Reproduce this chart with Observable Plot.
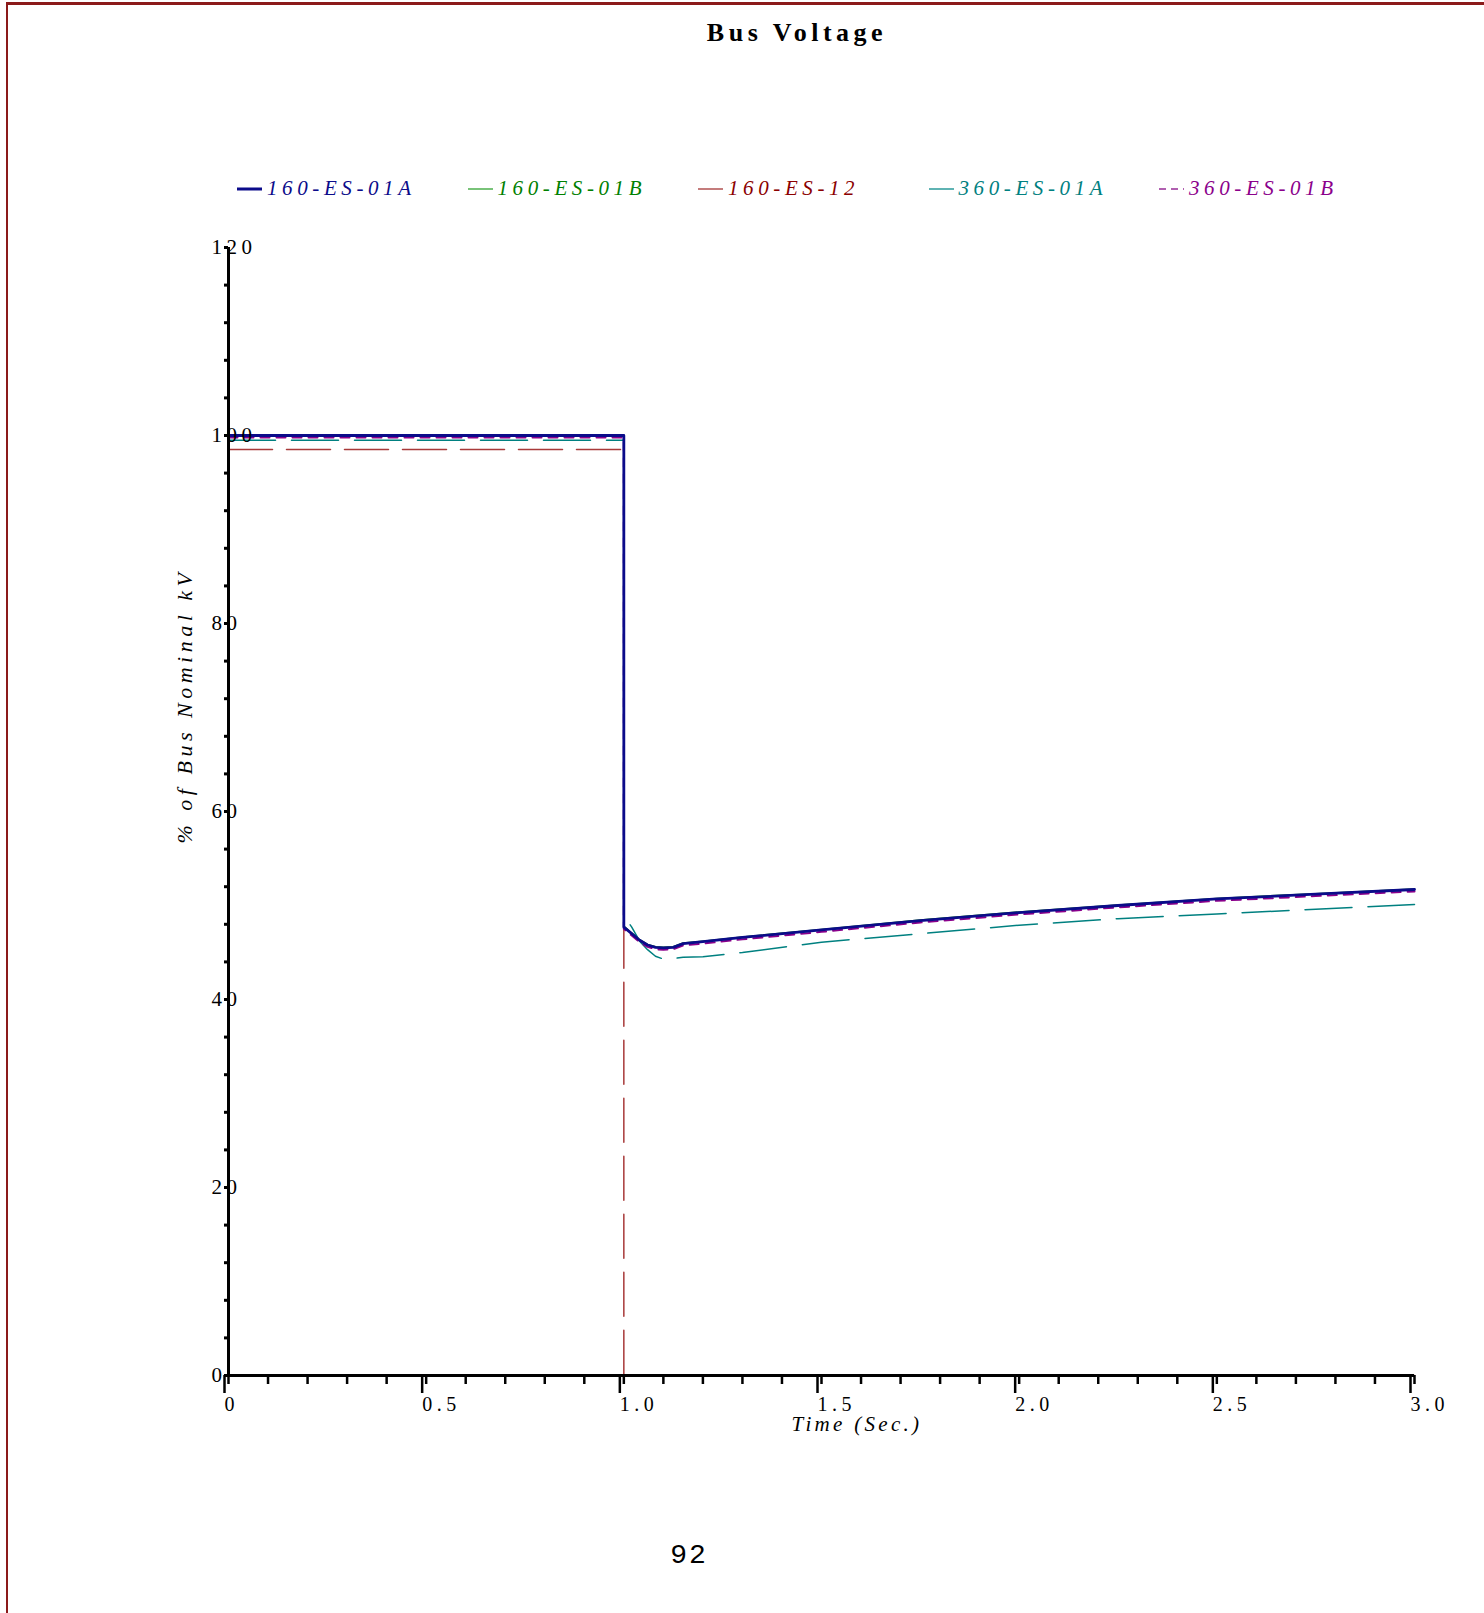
<!DOCTYPE html>
<html>
<head>
<meta charset="utf-8">
<script src="https://cdn.jsdelivr.net/npm/d3@7"></script>
<script src="https://cdn.jsdelivr.net/npm/@observablehq/plot@0.6"></script>
<style>
  html, body { margin: 0; padding: 0; background: #fff; }
  #page { position: relative; width: 1484px; height: 1613px; overflow: hidden; background: #fff; }
  #page svg.chart { position: absolute; left: 0; top: 0; }
  .frame-top { position: absolute; left: 6px; top: 2px; width: 1478px; height: 3px; background: #8b1a1a; }
  .frame-left { position: absolute; left: 6px; top: 2px; width: 2px; height: 1611px; background: #8b1a1a; }
  .title { position: absolute; left: 0; width: 1594px; top: 18px; text-align: center;
           font-family: "Liberation Serif", serif; font-weight: bold; font-size: 26px; letter-spacing: 4.5px; }
  .legend { position: absolute; top: 176px; left: 237px; display: flex; }
  .legend .item { width: 230.5px; display: flex; align-items: center; white-space: nowrap; }
  .legend svg { margin-right: 4px; }
  .legend span { font-family: "Liberation Serif", serif; font-style: italic; font-size: 21px; letter-spacing: 4.6px; }
  .ylabel { position: absolute; left: 185px; top: 706px; transform: translate(-50%, -50%) rotate(-90deg);
            font-family: "Liberation Serif", serif; font-style: italic; font-size: 22px; letter-spacing: 4.5px; white-space: nowrap; }
  .xlabel { position: absolute; left: 857px; top: 1424px; transform: translate(-50%, -50%);
            font-family: "Liberation Serif", serif; font-style: italic; font-size: 21px; letter-spacing: 3.3px; white-space: nowrap; }
  .pagenum { position: absolute; left: 689px; top: 1555px; transform: translate(-50%, -50%);
             font-family: "Liberation Mono", monospace; font-size: 28px; letter-spacing: 2px; }
  g[aria-label="x-axis tick label"] text { letter-spacing: 4.5px; font-size: 20px; }
  g[aria-label="y-axis tick label"] text { letter-spacing: 4.5px; font-size: 21px; }
</style>
</head>
<body>
<div id="page">
  <div class="frame-top"></div>
  <div class="frame-left"></div>
  <div class="title">Bus Voltage</div>
  <div class="legend" id="legend"></div>
  <div class="ylabel">% of Bus Nominal kV</div>
  <div class="xlabel">Time (Sec.)</div>
  <div class="pagenum">92</div>
</div>
<script>
// ---- Data ----
const seriesNames = ["160-ES-01A", "160-ES-01B", "160-ES-12", "360-ES-01A", "360-ES-01B"];
const seriesColors = ["#0b0b8a", "#008000", "#a83a3a", "#008080", "#8b008b"];
const legendTextColors = ["#0b0b8a", "#008000", "#8b0000", "#008080", "#8b008b"];

// time before the fault (s)
const tPre = [0, 1.0];
// time after the fault (s)
const tPost = [1.0, 1.02, 1.04, 1.06, 1.08, 1.1, 1.125, 1.15, 1.2, 1.3, 1.5, 1.75, 2.0, 2.25, 2.5, 2.75, 3.0];

// pre-fault levels (% of nominal kV)
const pre_160_ES_01A = 100.0;
const pre_160_ES_01B = 100.0;
const pre_160_ES_12 = 98.5;
const pre_360_ES_01A = 99.5;
const pre_360_ES_01B = 99.8;

// post-fault values
const post_160_ES_01A = [47.7, 47.0, 46.3, 45.8, 45.55, 45.5, 45.55, 45.95, 46.15, 46.6, 47.4, 48.4, 49.25, 50.0, 50.7, 51.2, 51.7];
const post_160_ES_01B = [47.8, 47.05, 46.35, 45.85, 45.6, 45.55, 45.6, 46.0, 46.2, 46.65, 47.45, 48.45, 49.3, 50.05, 50.75, 51.25, 51.75];
const post_360_ES_01B = [47.5, 46.8, 46.1, 45.6, 45.35, 45.3, 45.35, 45.75, 45.95, 46.4, 47.2, 48.2, 49.05, 49.8, 50.5, 51.0, 51.5];
const post_360_ES_01A = [48.9, 47.7, 46.2, 45.3, 44.6, 44.3, 44.35, 44.5, 44.55, 45.0, 46.1, 47.0, 47.9, 48.6, 49.1, 49.6, 50.1];
// 160-ES-12 is the faulted bus: it collapses to zero
const tPost_160_ES_12 = [1.0, 3.0];
const post_160_ES_12 = [0, 0];

// axis ticks
const yMajorTicks = [0, 20, 40, 60, 80, 100, 120];
const yMinorTicks = d3.range(0, 121, 4);
const xMajorTicks = [0, 0.5, 1.0, 1.5, 2.0, 2.5, 3.0];
const xMinorTicks = d3.range(0, 31).map(i => i / 10);

// ---- Build tables ----
function build(preLevel, tp, vals) {
  const rows = tPre.map(t => ({t, v: preLevel}));
  tp.forEach((t, i) => rows.push({t, v: vals[i]}));
  return rows;
}
const d01A = build(pre_160_ES_01A, tPost, post_160_ES_01A);
const d01B = build(pre_160_ES_01B, tPost, post_160_ES_01B);
const d12 = build(pre_160_ES_12, tPost_160_ES_12, post_160_ES_12);
const d3601A = build(pre_360_ES_01A, tPost, post_360_ES_01A);
const d3601B = build(pre_360_ES_01B, tPost, post_360_ES_01B);

const chart = Plot.plot({
  width: 1484,
  height: 1613,
  marginLeft: 228,
  marginRight: 70,
  marginTop: 247,
  marginBottom: 238,
  x: {domain: [0, 3], label: null},
  y: {domain: [0, 120], label: null},
  style: {fontFamily: "Liberation Serif, serif", fontSize: "19px", color: "black", background: "transparent", overflow: "visible"},
  marks: [
    Plot.line(d12, {x: "t", y: "v", stroke: seriesColors[2], strokeWidth: 1.5, strokeDasharray: "44,14"}),
    Plot.line(d3601A, {x: "t", y: "v", stroke: seriesColors[3], strokeWidth: 1.5, strokeDasharray: "47,16"}),
    Plot.line(d3601B, {x: "t", y: "v", stroke: seriesColors[4], strokeWidth: 2, strokeDasharray: "9,7"}),
    Plot.line(d01B, {x: "t", y: "v", stroke: seriesColors[1], strokeWidth: 1.6}),
    Plot.line(d01A, {x: "t", y: "v", stroke: seriesColors[0], strokeWidth: 2.8}),
    Plot.ruleX([0], {stroke: "black", strokeWidth: 3}),
    Plot.ruleY([0], {stroke: "black", strokeWidth: 3}),
    Plot.axisX(xMinorTicks, {tickSize: 9, strokeWidth: 2.5, tickFormat: () => "", label: null}),
    Plot.axisX(xMajorTicks, {tickSize: 18, strokeWidth: 2.5, tickPadding: 3, textAnchor: "start", dx: -4, label: null,
      tickFormat: d => d === 0 ? "0" : d.toFixed(1)}),
    Plot.axisY(yMinorTicks, {tickSize: 4, strokeWidth: 3, tickFormat: () => "", label: null}),
    Plot.axisY(yMajorTicks, {tickSize: 0, tickPadding: 0, textAnchor: "start", dx: -17, label: null, tickFormat: d => String(d)})
  ]
});
chart.classList.add("chart");
document.getElementById("page").appendChild(chart);

// ---- Legend ----
const legendDash = [null, null, null, null, "7,5"];
const legendStroke = ["#0b0b8a", "#4caf4c", "#b05050", "#2a9a9a", "#b060b0"];
const legendWidth = [3, 1.5, 1.5, 1.5, 2];
const legend = d3.select("#legend");
seriesNames.forEach((name, i) => {
  const item = legend.append("div").attr("class", "item");
  const s = item.append("svg").attr("width", 26).attr("height", 10);
  s.append("line").attr("x1", 0).attr("x2", 25).attr("y1", 5).attr("y2", 5)
    .attr("stroke", legendStroke[i]).attr("stroke-width", legendWidth[i])
    .attr("stroke-dasharray", legendDash[i]);
  item.append("span").style("color", legendTextColors[i]).text(name);
});
</script>
</body>
</html>
